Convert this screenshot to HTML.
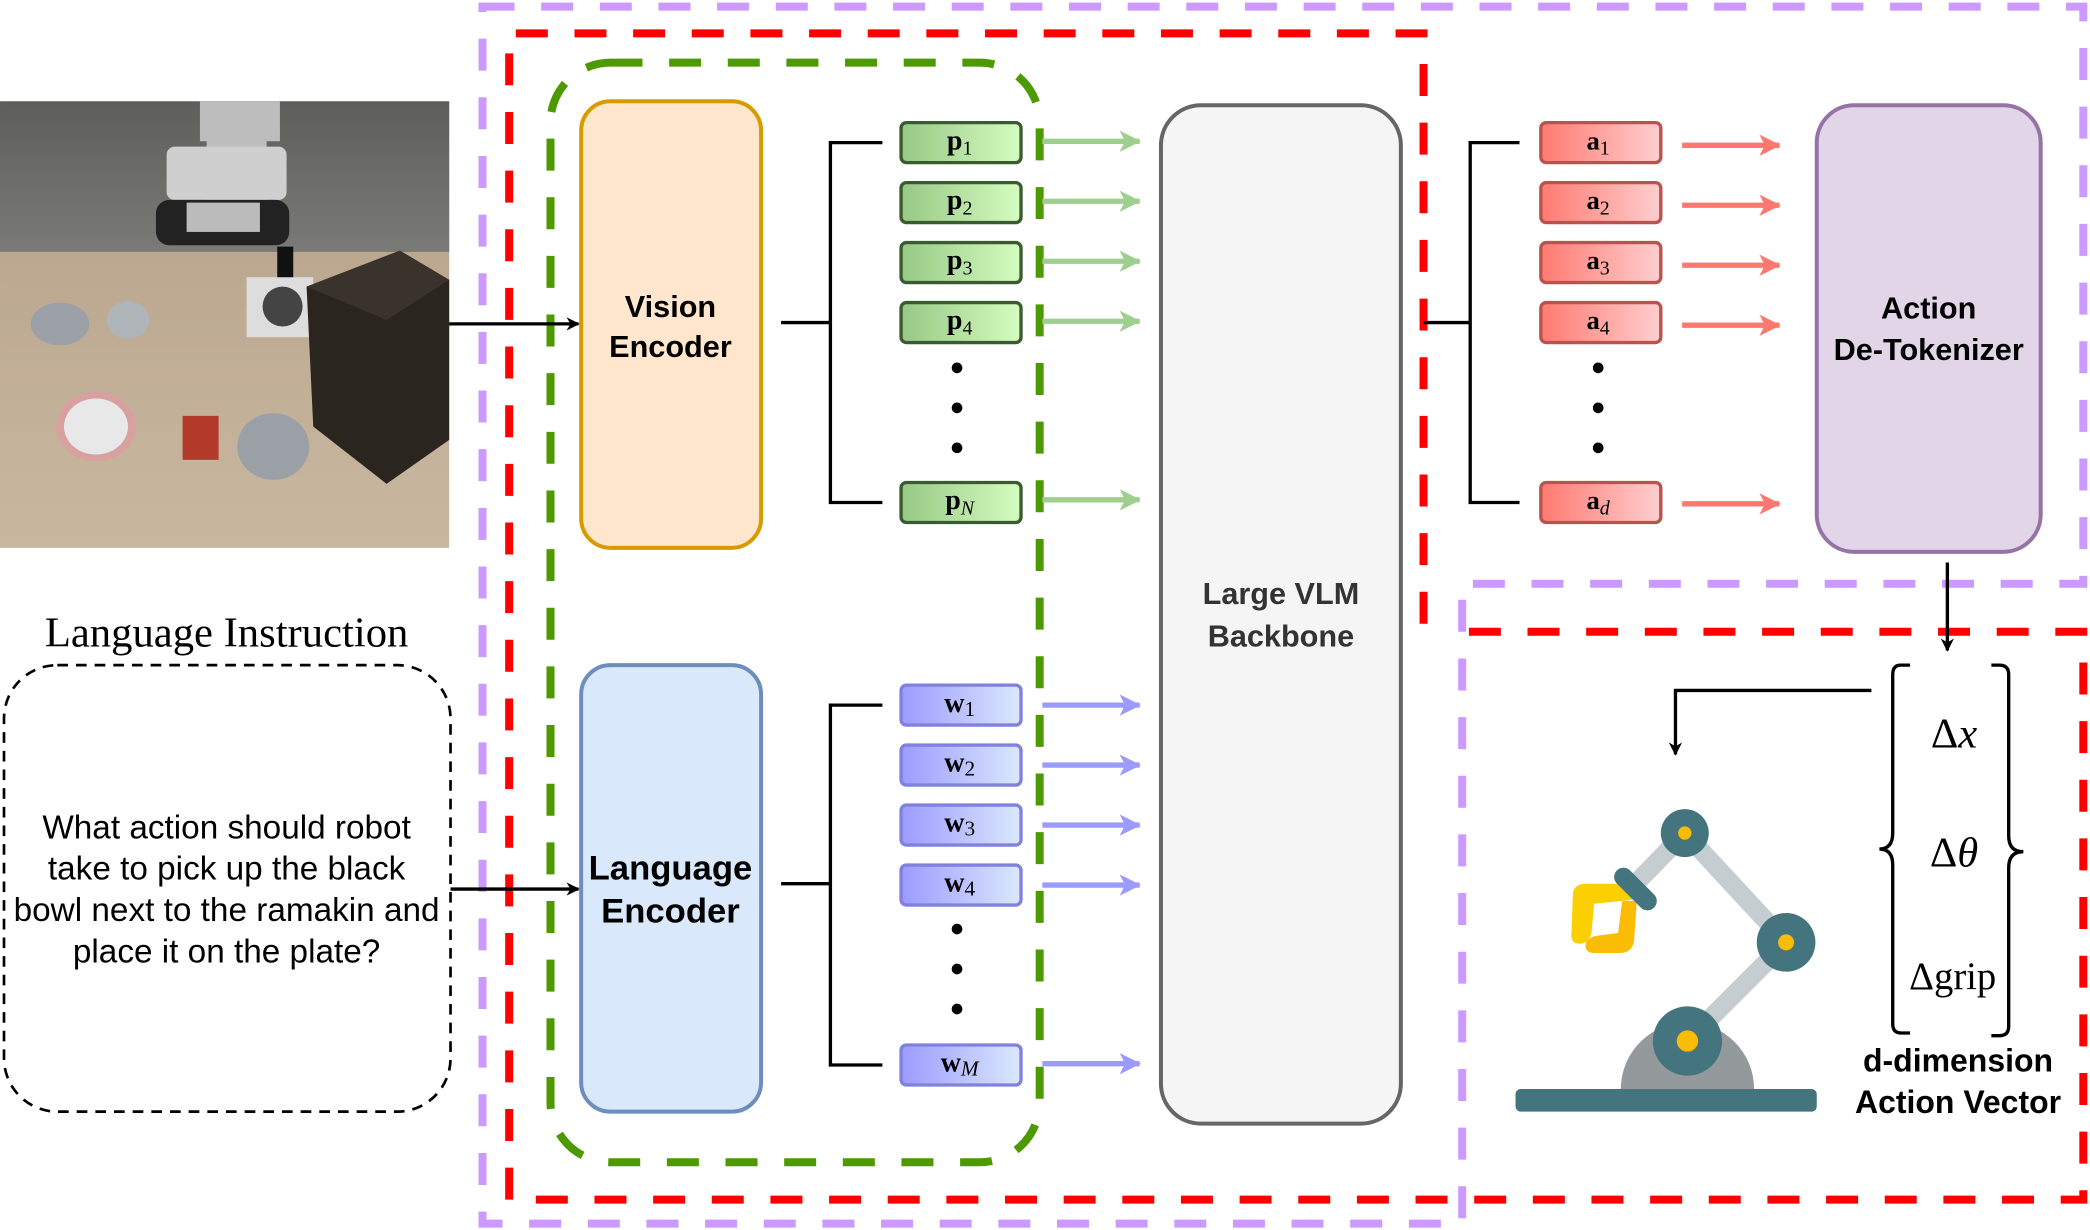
<!DOCTYPE html>
<html><head><meta charset="utf-8"><style>
html,body{margin:0;padding:0;background:#fff;}
svg{display:block;}
.sans{font-family:"Liberation Sans",sans-serif;}
.serif{font-family:"Liberation Serif",serif;}
</style></head><body>
<svg width="2090" height="1230" viewBox="0 0 1568 922.8" xmlns="http://www.w3.org/2000/svg">
<defs>
<linearGradient id="gg" x1="0" x2="1"><stop offset="0" stop-color="#97c886"/><stop offset="1" stop-color="#d5fcc0"/></linearGradient>
<linearGradient id="bg" x1="0" x2="1"><stop offset="0" stop-color="#9b9bff"/><stop offset="1" stop-color="#dae8fc"/></linearGradient>
<linearGradient id="rg" x1="0" x2="1"><stop offset="0" stop-color="#ff7a72"/><stop offset="1" stop-color="#ffcece"/></linearGradient>
<linearGradient id="wall" x1="0" y1="0" x2="0" y2="1"><stop offset="0" stop-color="#5e5e5c"/><stop offset="1" stop-color="#7a7a76"/></linearGradient>
<linearGradient id="table" x1="0" y1="0" x2="0" y2="1"><stop offset="0" stop-color="#b5a088"/><stop offset="1" stop-color="#c9b79f"/></linearGradient>
<marker id="ak" markerWidth="10" markerHeight="10" refX="9" refY="5" orient="auto" markerUnits="userSpaceOnUse"><path d="M0,0 L10,5 L0,10 L3,5 z" fill="#000"/></marker>
<marker id="ag" markerWidth="16" markerHeight="16" refX="15" refY="8" orient="auto" markerUnits="userSpaceOnUse"><path d="M0,0 L16,8 L0,16 L4,8 z" fill="#9fcf8f"/></marker>
<marker id="ab" markerWidth="16" markerHeight="16" refX="15" refY="8" orient="auto" markerUnits="userSpaceOnUse"><path d="M0,0 L16,8 L0,16 L4,8 z" fill="#9b9bff"/></marker>
<marker id="ar" markerWidth="16" markerHeight="16" refX="15" refY="8" orient="auto" markerUnits="userSpaceOnUse"><path d="M0,0 L16,8 L0,16 L4,8 z" fill="#ff7870"/></marker>
</defs>

<rect x="0" y="76" width="337" height="335" fill="url(#table)"/>
<rect x="0" y="76" width="337" height="113" fill="url(#wall)"/>
<path d="M150,76 h60 v30 h-10 v60 h-45 v-60 h-5z" fill="#bdbdbd"/>
<rect x="125" y="110" width="90" height="40" rx="6" fill="#cfcfcf"/>
<rect x="117" y="150" width="100" height="34" rx="10" fill="#222"/>
<rect x="140" y="152" width="55" height="22" fill="#bbb"/>
<rect x="208" y="185" width="12" height="25" fill="#111"/>
<rect x="185" y="208" width="50" height="45" fill="#ddd"/>
<circle cx="212" cy="230" r="15" fill="#444"/>
<path d="M230,215 L300,188 L337,210 L337,330 L290,363 L235,320 z" fill="#2b2520"/>
<path d="M230,215 L300,188 L337,210 L290,240z" fill="#3a332c"/>
<ellipse cx="45" cy="243" rx="22" ry="16" fill="#9aa0a6"/>
<ellipse cx="96" cy="240" rx="16" ry="14" fill="#b0b5ba"/>
<ellipse cx="72" cy="320" rx="30" ry="26" fill="#d9a0a0"/>
<ellipse cx="72" cy="320" rx="24" ry="21" fill="#e8e8e8"/>
<rect x="137" y="312" width="27" height="33" fill="#b33a2a"/>
<ellipse cx="205" cy="335" rx="27" ry="25" fill="#9aa0a6"/>

<text x="170" y="485" text-anchor="middle" class="serif" font-size="32">Language Instruction</text>
<rect x="3" y="499" width="335" height="335" rx="40" fill="none" stroke="#000" stroke-width="2" stroke-dasharray="8,6"/>
<g class="sans" font-size="25" text-anchor="middle">
<text x="170" y="629">What action should robot</text>
<text x="170" y="660">take to pick up the black</text>
<text x="170" y="691">bowl next to the ramakin and</text>
<text x="170" y="722">place it on the plate?</text>
</g>

<path d="M362,5 H1563 V438 H1097 V918 H362 Z" fill="none" stroke="#cc99ff" stroke-width="6" stroke-dasharray="24,20"/>
<path d="M1068,468 V25 H382 V900 H1563 V474 H1085" fill="none" stroke="#ff0000" stroke-width="6" stroke-dasharray="24,20"/>
<rect x="413" y="47" width="367" height="825" rx="45" fill="none" stroke="#4d9900" stroke-width="6" stroke-dasharray="24,20"/>

<rect x="436" y="76" width="135" height="335" rx="22" fill="#ffe6cc" stroke="#d79b00" stroke-width="3"/>
<text x="503" y="238" text-anchor="middle" class="sans" font-size="23" font-weight="bold">Vision</text>
<text x="503" y="268" text-anchor="middle" class="sans" font-size="23" font-weight="bold">Encoder</text>
<rect x="436" y="499" width="135" height="335" rx="22" fill="#dae8fc" stroke="#6c8ebf" stroke-width="3"/>
<text x="503" y="660" text-anchor="middle" class="sans" font-size="26" font-weight="bold">Language</text>
<text x="503" y="692" text-anchor="middle" class="sans" font-size="26" font-weight="bold">Encoder</text>

<line x1="337" y1="243" x2="434" y2="243" stroke="#000" stroke-width="2.5" marker-end="url(#ak)"/>
<line x1="338" y1="667" x2="434" y2="667" stroke="#000" stroke-width="2.5" marker-end="url(#ak)"/>

<path d="M586,242 H623 M662,107 H623 V377 H662" fill="none" stroke="#000" stroke-width="2.5"/>
<path d="M586,663 H623 M662,529 H623 V799 H662" fill="none" stroke="#000" stroke-width="2.5"/>
<path d="M1068,242 H1103 M1140,107 H1103 V377 H1140" fill="none" stroke="#000" stroke-width="2.5"/>

<g stroke="#3a5a30" stroke-width="2.5" fill="url(#gg)">
<rect x="676" y="92" width="90" height="30" rx="4"/><rect x="676" y="137" width="90" height="30" rx="4"/>
<rect x="676" y="182" width="90" height="30" rx="4"/><rect x="676" y="227" width="90" height="30" rx="4"/>
<rect x="676" y="362" width="90" height="30" rx="4"/>
</g>
<g class="serif" font-size="21" font-weight="bold" text-anchor="middle">
<text x="720" y="112">p<tspan font-size="15" font-weight="normal" dy="4">1</tspan></text>
<text x="720" y="157">p<tspan font-size="15" font-weight="normal" dy="4">2</tspan></text>
<text x="720" y="202">p<tspan font-size="15" font-weight="normal" dy="4">3</tspan></text>
<text x="720" y="247">p<tspan font-size="15" font-weight="normal" dy="4">4</tspan></text>
<text x="720" y="382">p<tspan font-size="15" font-weight="normal" font-style="italic" dy="4">N</tspan></text>
</g>
<g fill="#000"><circle cx="718" cy="276" r="4"/><circle cx="718" cy="306" r="4"/><circle cx="718" cy="336" r="4"/>
<circle cx="718" cy="697" r="4"/><circle cx="718" cy="727" r="4"/><circle cx="718" cy="757" r="4"/>
<circle cx="1199" cy="276" r="4"/><circle cx="1199" cy="306" r="4"/><circle cx="1199" cy="336" r="4"/></g>

<g stroke="#8080dd" stroke-width="2.5" fill="url(#bg)">
<rect x="676" y="514" width="90" height="30" rx="4"/><rect x="676" y="559" width="90" height="30" rx="4"/>
<rect x="676" y="604" width="90" height="30" rx="4"/><rect x="676" y="649" width="90" height="30" rx="4"/>
<rect x="676" y="784" width="90" height="30" rx="4"/>
</g>
<g class="serif" font-size="21" font-weight="bold" text-anchor="middle">
<text x="720" y="534">w<tspan font-size="16" font-weight="normal" dy="3">1</tspan></text>
<text x="720" y="579">w<tspan font-size="16" font-weight="normal" dy="3">2</tspan></text>
<text x="720" y="624">w<tspan font-size="16" font-weight="normal" dy="3">3</tspan></text>
<text x="720" y="669">w<tspan font-size="16" font-weight="normal" dy="3">4</tspan></text>
<text x="720" y="804">w<tspan font-size="16" font-weight="normal" font-style="italic" dy="3">M</tspan></text>
</g>

<g stroke="#b85450" stroke-width="2.5" fill="url(#rg)">
<rect x="1156" y="92" width="90" height="30" rx="4"/><rect x="1156" y="137" width="90" height="30" rx="4"/>
<rect x="1156" y="182" width="90" height="30" rx="4"/><rect x="1156" y="227" width="90" height="30" rx="4"/>
<rect x="1156" y="362" width="90" height="30" rx="4"/>
</g>
<g class="serif" font-size="20" font-weight="bold" text-anchor="middle">
<text x="1199" y="112">a<tspan font-size="15" font-weight="normal" dy="4">1</tspan></text>
<text x="1199" y="157">a<tspan font-size="15" font-weight="normal" dy="4">2</tspan></text>
<text x="1199" y="202">a<tspan font-size="15" font-weight="normal" dy="4">3</tspan></text>
<text x="1199" y="247">a<tspan font-size="15" font-weight="normal" dy="4">4</tspan></text>
<text x="1199" y="382">a<tspan font-size="15" font-weight="normal" font-style="italic" dy="4">d</tspan></text>
</g>

<g stroke="#9fcf8f" stroke-width="4" marker-end="url(#ag)">
<line x1="782" y1="106" x2="855" y2="106"/><line x1="782" y1="151" x2="855" y2="151"/>
<line x1="782" y1="196" x2="855" y2="196"/><line x1="782" y1="241" x2="855" y2="241"/>
<line x1="782" y1="375" x2="855" y2="375"/>
</g>
<g stroke="#9b9bff" stroke-width="4" marker-end="url(#ab)">
<line x1="782" y1="529" x2="855" y2="529"/><line x1="782" y1="574" x2="855" y2="574"/>
<line x1="782" y1="619" x2="855" y2="619"/><line x1="782" y1="664" x2="855" y2="664"/>
<line x1="782" y1="798" x2="855" y2="798"/>
</g>
<g stroke="#ff7870" stroke-width="4" marker-end="url(#ar)">
<line x1="1262" y1="109" x2="1335" y2="109"/><line x1="1262" y1="154" x2="1335" y2="154"/>
<line x1="1262" y1="199" x2="1335" y2="199"/><line x1="1262" y1="244" x2="1335" y2="244"/>
<line x1="1262" y1="378" x2="1335" y2="378"/>
</g>

<rect x="871" y="79" width="180" height="764" rx="30" fill="#f5f5f5" stroke="#666" stroke-width="3"/>
<text x="961" y="453" text-anchor="middle" class="sans" font-size="23" font-weight="bold" fill="#333">Large VLM</text>
<text x="961" y="485" text-anchor="middle" class="sans" font-size="23" font-weight="bold" fill="#333">Backbone</text>

<rect x="1363" y="79" width="168" height="335" rx="28" fill="#e1d5e7" stroke="#9673a6" stroke-width="3"/>
<text x="1447" y="239" text-anchor="middle" class="sans" font-size="23" font-weight="bold">Action</text>
<text x="1447" y="270" text-anchor="middle" class="sans" font-size="23" font-weight="bold">De-Tokenizer</text>

<line x1="1461" y1="422" x2="1461" y2="488" stroke="#000" stroke-width="2.5" marker-end="url(#ak)"/>
<path d="M1404,518 H1257 V566" fill="none" stroke="#000" stroke-width="2.5" marker-end="url(#ak)"/>

<path d="M1433,499 H1426 Q1420,499 1420,506 V625 Q1420,637 1410,637 Q1420,637 1420,649 V768 Q1420,775 1426,775 H1433" fill="none" stroke="#000" stroke-width="2.5"/>
<path d="M1494,499 H1500 Q1507,499 1507,506 V627 Q1507,639 1518,639 Q1507,639 1507,651 V770 Q1507,777 1500,777 H1494" fill="none" stroke="#000" stroke-width="2.5"/>
<g class="serif" font-size="32" text-anchor="middle">
<text x="1466" y="561">Δ<tspan font-style="italic">x</tspan></text>
<text x="1466" y="650">Δ<tspan font-style="italic">θ</tspan></text>
<text x="1465" y="742" font-size="29">Δgrip</text>
</g>
<text x="1469" y="804" text-anchor="middle" class="sans" font-size="24" font-weight="bold">d-dimension</text>
<text x="1469" y="835" text-anchor="middle" class="sans" font-size="24" font-weight="bold">Action Vector</text>

<path d="M1216,817 A50,50 0 0 1 1316,817 Z" fill="#949a9c"/>
<g stroke="#c5cdd0" stroke-width="14" stroke-linecap="round">
<line x1="1266" y1="781" x2="1340" y2="707"/>
<line x1="1340" y1="707" x2="1264" y2="625"/>
<line x1="1264" y1="625" x2="1225" y2="665"/>
</g>
<rect x="1137" y="817" width="226" height="17" rx="4" fill="#44757e"/>
<circle cx="1266" cy="781" r="26" fill="#44757e"/><circle cx="1266" cy="781" r="8" fill="#fbbc05"/>
<circle cx="1340" cy="707" r="22" fill="#44757e"/><circle cx="1340" cy="707" r="6" fill="#fbbc05"/>
<circle cx="1264" cy="625" r="18" fill="#44757e"/><circle cx="1264" cy="625" r="5" fill="#fbbc05"/>
<path d="M1180,672 Q1180,663 1190,663 L1228,663 L1225,675 L1196,678 L1194,700 Q1192,708 1185,708 Q1178,708 1179,700 Z" fill="#fcd000"/>
<path d="M1228,676 L1226,705 Q1225,715 1215,715 L1195,715 Q1188,714 1190,707 Q1192,703 1198,702 L1214,700 L1217,676 Z" fill="#fbbc05"/>
<line x1="1218" y1="658" x2="1236" y2="676" stroke="#44757e" stroke-width="14" stroke-linecap="round"/>
</svg>
</body></html>
